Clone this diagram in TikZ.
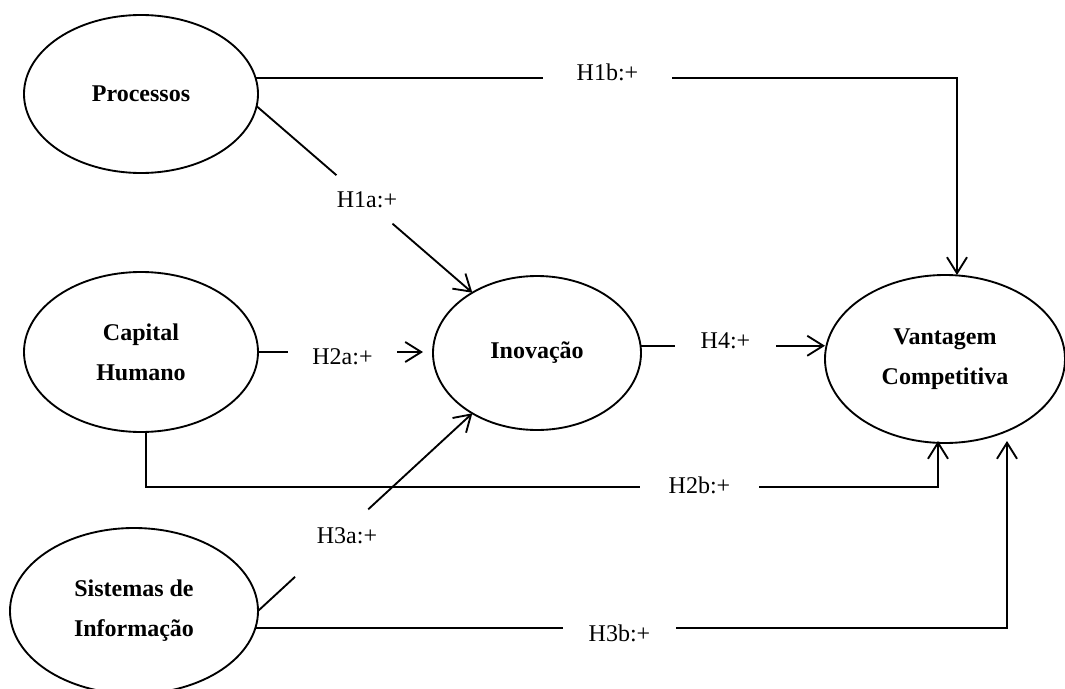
\documentclass[tikz,border=0pt]{standalone}
\usepackage{fontspec}
\setmainfont{Liberation Serif}
\usetikzlibrary{arrows.meta,calc,shapes.geometric}

\begin{document}
\begin{tikzpicture}[x=0.75pt,y=-0.75pt,
  line width=1.4pt,
  construct/.style={draw, ellipse, inner sep=0pt, outer sep=0pt, align=center,
    font=\fontsize{18}{30}\selectfont\bfseries},
  hyp/.style={inner sep=0pt, outer sep=0pt, text height=12pt, text depth=0pt,
    font=\fontsize{18}{22}\selectfont},
  link/.style={-{Straight Barb[length=12pt,width=15pt]}},
]
\useasboundingbox (0,0) rectangle (1065,689);

% Constructs of the model
\node[construct, minimum width=175.5pt, minimum height=118.5pt] (proc) at (141,94) {Processos};
\node[construct, minimum width=175.5pt, minimum height=120pt] (cap) at (141,352) {Capital\\Humano};
\node[construct, minimum width=186pt, minimum height=124.5pt] (sis) at (134,611) {Sistemas de\\Informação};
\node[construct, minimum width=156pt, minimum height=115.5pt] (ino) at (537,353) {Inovação};
\node[construct, minimum width=180pt, minimum height=126pt] (vant) at (945,359) {Vantagem\\Competitiva};

% Columns used for the labels and the elbow corners
\coordinate (xh1b) at (607.5,0);
\coordinate (xc1b) at (957,0);
\coordinate (xh2a) at (342.5,0);
\coordinate (xh4) at (725.5,0);
\coordinate (xh3b) at (619.5,0);
\coordinate (xc3b) at (1007,0);

% H1b: Processos -> Vantagem Competitiva
\node[hyp, minimum width=96.75pt] (h1b) at (proc.8 -| xh1b) {\raisebox{3.75pt}{H1b:+}};
\coordinate (c1b) at (proc.8 -| xc1b);
\draw (proc.8) -- (h1b);
\draw[link] (h1b) -- (c1b) -- (c1b |- vant.north);

% H1a: Processos -> Inovacao
\coordinate (a1s) at (proc.-6);
\coordinate (a1e) at (ino.137);
\node[hyp] (h1a) at (367,199) {H1a:+};
\draw (a1s) -- ($(a1s)!0.37!(a1e)$);
\draw[link] ($(a1s)!0.63!(a1e)$) -- (a1e);

% H2a: Capital Humano -> Inovacao
\node[hyp, minimum width=81.75pt] (h2a) at (cap.east -| xh2a) {\raisebox{-3pt}{H2a:+}};
\draw (cap.east) -- (h2a);
\draw[link, shorten >=7.5pt] (h2a) -- (h2a -| ino.west);

% H4: Inovacao -> Vantagem Competitiva
\node[hyp, minimum width=75.75pt] (h4) at (ino.4 -| xh4) {\raisebox{3.75pt}{H4:+}};
\draw (ino.4) -- (h4);
\draw[link] (h4) -- (h4 -| vant.west);

% H2b: Capital Humano -> Vantagem Competitiva
\coordinate (s2b) at ([xshift=3.75pt]cap.south);
\coordinate (c2b) at (938,487);
\node[hyp, minimum width=89.25pt] (h2b) at (699.5,487) {\raisebox{1.5pt}{H2b:+}};
\draw (s2b) |- (h2b);
\draw[link, shorten >=-1.5pt] (h2b) -| (c2b |- vant.south);

% H3a: Sistemas de Informacao -> Inovacao
\coordinate (a3s) at (sis.east);
\coordinate (a3e) at (ino.223);
\node[hyp] (h3a) at (347,535) {H3a:+};
\draw (a3s) -- ($(a3s)!0.173!(a3e)$);
\draw[link] ($(a3s)!0.514!(a3e)$) -- (a3e);

% H3b: Sistemas de Informacao -> Vantagem Competitiva
\node[hyp, minimum width=84.75pt] (h3b) at (sis.-8.5 -| xh3b) {\raisebox{-3.75pt}{H3b:+}};
\coordinate (c3b) at (sis.-8.5 -| xc3b);
\draw (sis.-8.5) -- (h3b);
\draw[link, shorten >=-1.5pt] (h3b) -- (c3b) -- (c3b |- vant.south);
\end{tikzpicture}
\end{document}
